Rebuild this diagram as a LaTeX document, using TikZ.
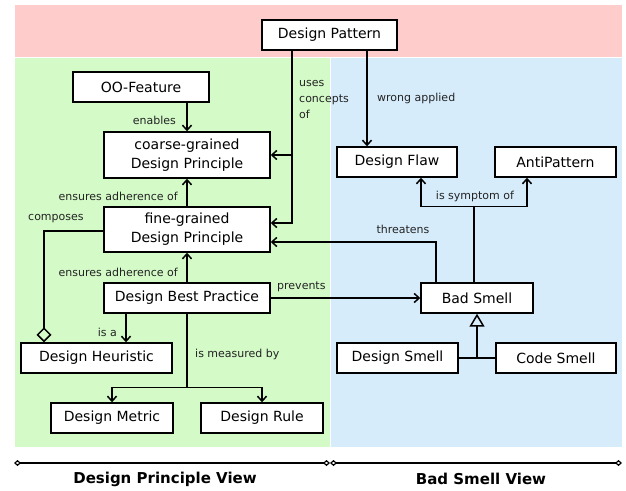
\documentclass[tikz,border=0pt]{standalone}
\usepackage{fontspec}
\setmainfont{DejaVu Sans}
\usetikzlibrary{arrows.meta}
\definecolor{bandpink}{RGB}{255,204,204}
\definecolor{viewgreen}{RGB}{212,250,200}
\definecolor{viewblue}{RGB}{214,236,251}
\definecolor{labelgray}{RGB}{35,35,35}
\begin{document}
\begin{tikzpicture}[x=1pt,y=-1pt,
  concept/.style={draw=black,fill=white,line width=1.4pt,inner sep=0pt,
    minimum height=30pt,align=center,font=\fontsize{14}{19}\selectfont},
  wide/.style={minimum height=45pt},
  lbl/.style={inner sep=0pt,text=labelgray,font=\fontsize{11}{16}\selectfont,align=left},
  link/.style={line width=1.5pt,draw=black},
  arr/.style={link,-{Straight Barb[length=5pt,width=9pt]}},
  diam/.style={link,-{Diamond[open,length=15pt,width=15pt]}},
  gen/.style={link,-{Triangle[open,length=13pt,width=15pt]}},
  vline/.style={line width=1.2pt,{Diamond[open,length=7pt,width=6pt]}-{Diamond[open,length=7pt,width=6pt]}},
  title/.style={inner sep=0pt,font=\fontsize{15}{18}\selectfont\bfseries}]
\useasboundingbox (0,0) rectangle (626,490);

% view areas
\fill[bandpink] (15,5) rectangle (622,57);
\fill[viewgreen] (15,58) rectangle (329.5,447);
\fill[viewblue] (330.5,58) rectangle (622,447);

% concepts
\node[concept,minimum width=135pt] (dp) at (329.5,35) {Design Pattern};
\node[concept,minimum width=136pt] (oo) at (141,87) {OO-Feature};
\node[concept,wide,minimum width=166pt,minimum height=46pt] (coarse) at (187,155) {coarse-grained\\Design Principle};
\node[concept,wide,minimum width=166pt] (fine) at (187,229.5) {fine-grained\\Design Principle};
\node[concept,minimum width=166pt] (bp) at (187,298) {Design Best Practice};
\node[concept,minimum width=151pt] (heur) at (96.5,358) {Design Heuristic};
\node[concept,minimum width=122pt] (metric) at (112,418) {Design Metric};
\node[concept,minimum width=122pt] (rule) at (262,418) {Design Rule};
\node[concept,minimum width=120pt] (flaw) at (397,162) {Design Flaw};
\node[concept,minimum width=121pt] (anti) at (555.5,162) {AntiPattern};
\node[concept,minimum width=112pt] (bad) at (477,298) {Bad Smell};
\node[concept,minimum width=121pt] (dsmell) at (397.5,358) {Design Smell};
\node[concept,minimum width=120pt] (csmell) at (556,358) {Code Smell};

% design principle view
\draw[arr] (coarse.north |- oo.south) -- (coarse.north);
\node[lbl,anchor=east] (lenables) at (176,120) {enables};

\path ([xshift=-37.5pt]dp.south) coordinate (usesTop);
\draw[arr] (usesTop) |- ([yshift=6.5pt]fine.east);
\draw[arr] (usesTop |- coarse.east) -- (coarse.east);
\node[lbl,anchor=west] (luses) at (299,99) {uses\\concepts\\of};

\draw[arr] (fine.north) -- (coarse.south);
\node[lbl,anchor=east] (lens1) at (178,196) {ensures adherence of};
\draw[arr] (bp.north) -- (fine.south);
\node[lbl,anchor=east] (lens2) at (178,272) {ensures adherence of};

\draw[diam] ([yshift=-1.5pt]fine.west) -| ([xshift=-52.5pt]heur.north);
\node[lbl,anchor=west] (lcomp) at (28,219) {composes};

\draw[arr] ([xshift=-61pt]bp.south) -- ([xshift=-61pt]bp.south |- heur.north);
\node[lbl,anchor=east] (lisa) at (117,332) {is a};

\path (bp.south) ++(0,74) coordinate (measJ);
\draw[link] (bp.south) -- (measJ);
\draw[arr] (measJ) -| (metric.north);
\draw[arr] (measJ) -| (rule.north);
\node[lbl,anchor=west] (lmeas) at (195,354) {is measured by};

\draw[arr] (bp.east) -- (bad.west);
\node[lbl,anchor=west] (lprev) at (277,287) {prevents};

% bad smell view
\draw[arr] ([xshift=-30pt]flaw.north |- dp.south) -- ([xshift=-30pt]flaw.north);
\node[lbl,anchor=west] (lwrong) at (377,98) {wrong applied};

\draw[arr] ([xshift=-41pt]bad.north) |- ([yshift=-12.5pt]fine.east);
\node[lbl] (lthreat) at (403,229) {threatens};

\path ([xshift=-3pt]bad.north) ++(0,-76) coordinate (sympJ);
\draw[link] ([xshift=-3pt]bad.north) -- (sympJ);
\draw[arr] (sympJ) -| ([xshift=24pt]flaw.south);
\draw[arr] (sympJ) -| ([xshift=-28.5pt]anti.south);
\node[lbl] (lsymp) at (475,196) {is symptom of};

\draw[link] (dsmell.east) -- (csmell.west);
\draw[gen] (dsmell.east -| bad.south) -- (bad.south);

% view extents
\draw[vline] (14,463) -- (330,463);
\draw[vline] (330,463) -- (622,463);
\node[title] (tdp) at (165,479) {Design Principle View};
\node[title] (tbs) at (481,479) {Bad Smell View};
\end{tikzpicture}
\end{document}
